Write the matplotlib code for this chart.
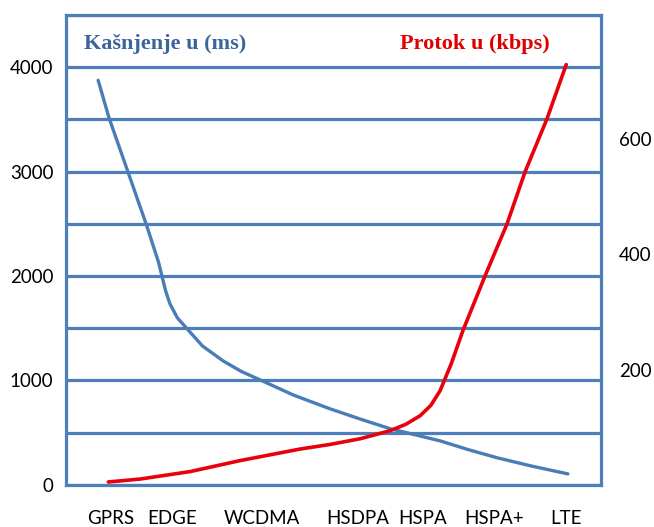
import matplotlib
matplotlib.use('Agg')
import matplotlib.pyplot as plt
from matplotlib.ticker import MultipleLocator

# categories along the x axis (positions in percent of the plot width)
categories = ['GPRS', 'EDGE', 'WCDMA', 'HSDPA', 'HSPA', 'HSPA+', 'LTE']
category_x = [8.4, 19.8, 36.6, 54.6, 66.7, 80.0, 93.5]

# latency curve (ms)
latency_x = [6.0, 8.0, 11.6, 15.0, 17.3, 17.9, 18.6, 19.4, 20.8, 22.6, 25.5, 29.3, 32.8, 36.6,
             42.5, 49.3, 55.0, 60.6, 63.7, 70.0, 75.0, 80.6, 87.0, 93.8]
latency_ms = [3875, 3520, 2993, 2494, 2130, 2005, 1860, 1736, 1600, 1496, 1330, 1189, 1085, 998,
              860, 729, 630, 537, 499, 420, 340, 259, 180, 105]

# throughput curve (kbps)
throughput_x = [7.9, 13.8, 23.2, 32.5, 43.7, 49.3, 55.0, 60.6, 63.5, 66.2, 68.2, 69.9,
                72.0, 74.2, 78.3, 82.4, 85.8, 89.9, 93.5]
throughput_kbps = [5, 10, 23, 42, 62, 70, 80, 94, 105, 120, 138, 163,
                   210, 268, 362, 452, 543, 635, 729]

left_ticks = [0, 1000, 2000, 3000, 4000]
right_ticks = [200, 400, 600]

frame_blue = '#4f7fbb'
line_blue = '#4a7cb8'
line_red = '#e8000b'

plt.rcParams['font.family'] = ['Lato', 'DejaVu Sans']

fig = plt.figure(figsize=(6.54, 5.27), dpi=100)
ax = fig.add_axes([0.101, 0.080, 0.818, 0.8915])

ax.plot(latency_x, latency_ms, color=line_blue, lw=2.4,
        solid_capstyle='round', solid_joinstyle='round')
ax.set_xlim(0, 100)
ax.set_ylim(0, 4500)
ax.set_yticks(left_ticks)
ax.yaxis.set_minor_locator(MultipleLocator(500))
ax.set_xticks(category_x)
ax.set_xticklabels(categories)
ax.tick_params(axis='both', which='both', length=0, labelsize=13.5, colors='black')
ax.tick_params(axis='y', pad=9)
ax.tick_params(axis='x', pad=18)
ax.grid(axis='y', which='both', color=frame_blue, lw=2.3)
for s in ax.spines.values():
    s.set_color(frame_blue)
    s.set_linewidth(2.3)

ax2 = ax.twinx()
ax2.plot(throughput_x, throughput_kbps, color=line_red, lw=2.6,
         solid_capstyle='round', solid_joinstyle='round')
ax2.set_ylim(0, 815)
ax2.set_yticks(right_ticks)
ax2.tick_params(axis='y', length=0, labelsize=13.5, pad=13)
for s in ax2.spines.values():
    s.set_visible(False)

ax.text(0.034, 0.938, 'Kašnjenje u (ms)', transform=ax.transAxes, ha='left', va='center',
        family='Liberation Serif', fontweight='bold', fontsize=16, color='#3a659b')
ax.text(0.905, 0.938, 'Protok u (kbps)', transform=ax.transAxes, ha='right', va='center',
        family='Liberation Serif', fontweight='bold', fontsize=16, color='#e00000')

fig.savefig('out.png', dpi=100)
